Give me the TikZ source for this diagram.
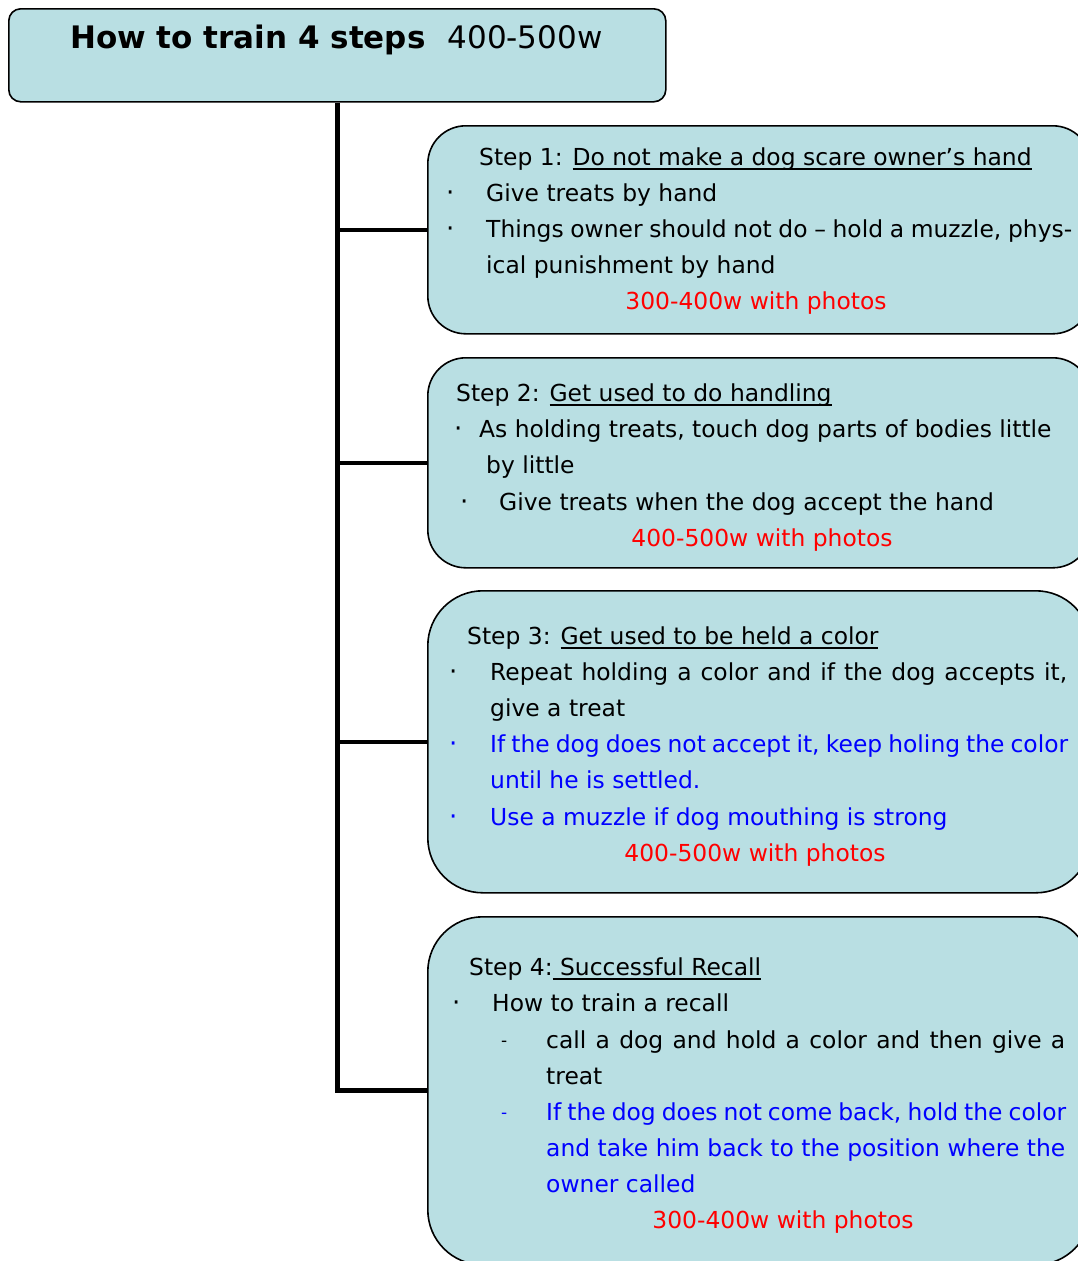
\documentclass[tikz,border=0pt]{standalone}
\usepackage{fontspec}
\setmainfont{DejaVu Sans}
\definecolor{boxfill}{RGB}{185,223,227}
\definecolor{txtblue}{RGB}{0,0,255}
\definecolor{txtred}{RGB}{255,0,0}
% underline with a fixed depth and thickness
\newcommand\headul[1]{\setbox0\hbox{#1}\rlap{\rule[-5pt]{\wd0}{1.6pt}}\box0}

\begin{document}
\begin{tikzpicture}[x=1pt,y=-1pt,
  card/.style={draw=black, line width=1.6pt, fill=boxfill, rounded corners=#1,
    inner sep=0pt, anchor=north west},
  card/.default=38pt,
  txt/.style={anchor=base west, inner sep=0pt, font=\fontsize{23.4}{28}\selectfont},
  blue/.style={txt, text=txtblue},
  dotmark/.style={txt, font=\fontsize{26}{28}\selectfont},
  dashmark/.style={txt, font=\fontsize{17}{20}\selectfont},
  note/.style={anchor=base, inner sep=0pt, text=txtred, font=\fontsize{23.4}{28}\selectfont},
  trunk/.style={line width=5pt},
  twig/.style={line width=4pt}]

\useasboundingbox (0,0) rectangle (1078,1261);
\clip (0,0) rectangle (1078,1261);

% title and the four step cards
\node[card=12pt, minimum width=657pt, minimum height=93pt] (head) at (8,8) {};
\node[anchor=base west, inner sep=0pt, font=\fontsize{31}{36}\selectfont] (headtxt) at (70,48)
  {\bfseries How to train 4 steps\hspace{22pt}\mdseries 400-500w};

\node[card, minimum width=663pt, minimum height=208pt] (s1) at (427,125) {};
\node[card, minimum width=663pt, minimum height=210pt] (s2) at (427,357) {};
\node[card=55pt, minimum width=663pt, minimum height=302pt] (s3) at (427,590) {};
\node[card=55pt, minimum width=663pt, minimum height=348pt] (s4) at (427,916) {};

% tree connectors
\coordinate (fork) at (337,0);
\draw[trunk] (head.south -| fork) |- (s4.west);
\draw[twig] (s1.west -| fork) -- (s1.west);
\draw[twig] (s2.west -| fork) -- (s2.west);
\draw[twig] (s3.west -| fork) -- (s3.west);

% step 1
\node[txt] (t10) at (479,165) {Step 1: \headul{Do not make a dog scare owner’s hand}};
\node[dotmark] (b11) at (446,201) {·};
\node[txt] (t11) at (486,201) {Give treats by hand};
\node[dotmark] (b12) at (446,237) {·};
\node[txt] (t12) at (486,237) {\makebox[586pt][s]{Things owner should not do – hold a muzzle, phys-}};
\node[txt] (t13) at (486,273) {ical punishment by hand};
\node[note] (n1) at (756,309) {300-400w with photos};

% step 2
\node[txt] (t20) at (456,401) {Step 2: \headul{Get used to do handling}};
\node[dotmark] (b21) at (454,437) {·};
\node[txt] (t21) at (479,437) {As holding treats, touch dog parts of bodies little};
\node[txt] (t22) at (486,473) {by little};
\node[dotmark] (b22) at (460,510) {·};
\node[txt] (t23) at (499,510) {Give treats when the dog accept the hand};
\node[note] (n2) at (762,546) {400-500w with photos};

% step 3
\node[txt] (t30) at (467,644) {Step 3: \headul{Get used to be held a color}};
\node[dotmark] (b31) at (449,680) {·};
\node[txt] (t31) at (490,680) {\makebox[577pt][s]{Repeat holding a color and if the dog accepts it,}};
\node[txt] (t32) at (490,716) {give a treat};
\node[dotmark, text=txtblue] (b32) at (449,752) {·};
\node[blue] (t33) at (490,752) {\makebox[578pt][s]{If the dog does not accept it, keep holing the color}};
\node[blue] (t34) at (490,788) {until he is settled.};
\node[dotmark, text=txtblue] (b33) at (449,825) {·};
\node[blue] (t35) at (490,825) {Use a muzzle if dog mouthing is strong};
\node[note] (n3) at (755,861) {400-500w with photos};

% step 4
\node[txt] (t40) at (469,975) {Step 4:\headul{ Successful Recall}};
\node[dotmark] (b41) at (452,1011) {·};
\node[txt] (t41) at (492,1011) {How to train a recall};
\node[dashmark] (d41) at (501,1046) {-};
\node[txt] (t42) at (546,1048) {\makebox[519pt][s]{call a dog and hold a color and then give a}};
\node[txt] (t43) at (546,1084) {treat};
\node[dashmark, text=txtblue] (d42) at (501,1118) {-};
\node[blue] (t44) at (546,1120) {\makebox[520pt][s]{If the dog does not come back, hold the color}};
\node[blue] (t45) at (546,1156) {\makebox[519pt][s]{and take him back to the position where the}};
\node[blue] (t46) at (546,1192) {owner called};
\node[note] (n4) at (783,1228) {300-400w with photos};
\end{tikzpicture}
\end{document}
